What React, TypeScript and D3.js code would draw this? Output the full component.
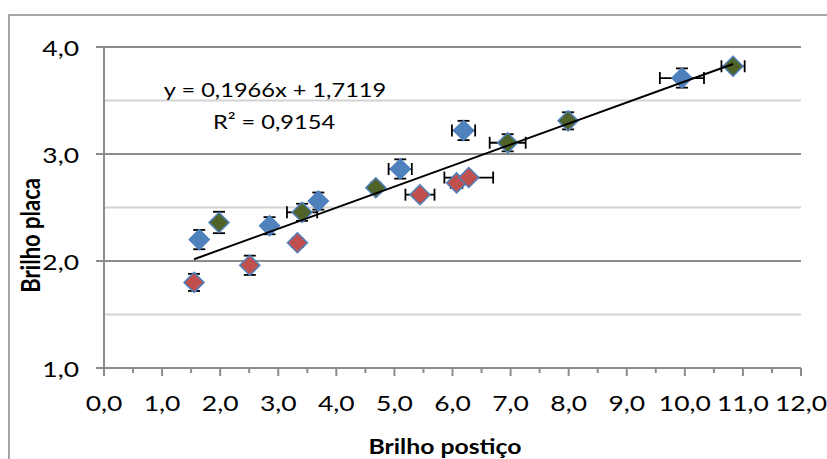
import React from "react";
import * as d3 from "d3";

// ---- data ----
const blueX = [1.64, 2.85, 3.69, 5.10, 6.19, 9.95];
const blueY = [2.20, 2.33, 2.56, 2.86, 3.22, 3.71];
const blueXErr = [0, 0, 0, 0.20, 0.20, 0.38];
const blueYErr = [0.09, 0.08, 0.08, 0.09, 0.09, 0.09];

const redX = [1.55, 2.51, 3.33, 5.44, 6.07, 6.28];
const redY = [1.80, 1.96, 2.17, 2.62, 2.73, 2.78];
const redXErr = [0, 0, 0, 0.25, 0.10, 0.42];
const redYErr = [0.08, 0.09, 0.04, 0.03, 0.03, 0.03];

const greenX = [1.98, 3.41, 4.68, 6.95, 7.99, 10.83];
const greenY = [2.36, 2.455, 2.685, 3.105, 3.31, 3.82];
const greenXErr = [0, 0.26, 0.08, 0.31, 0.05, 0.20];
const greenYErr = [0.10, 0.08, 0.03, 0.08, 0.08, 0.03];

const slope = 0.1966;
const intercept = 1.7119;
const eqLabel = "y = 0,1966x + 1,7119";
const r2Label = "R² = 0,9154";

const xTicks = [0, 1, 2, 3, 4, 5, 6, 7, 8, 9, 10, 11, 12];
const xMinorTicks = [0.5, 1.5, 2.5, 3.5, 4.5, 5.5, 6.5, 7.5, 8.5, 9.5, 10.5, 11.5];
const yTicks = [1, 2, 3, 4];
const yMinorGrid = [1.5, 2.5, 3.5];
const xTitle = "Brilho postiço";
const yTitle = "Brilho placa";

const fmt = (v: number) => v.toFixed(1).replace(".", ",");

type Pt = { x: number; y: number; xe: number; ye: number };
const mk = (xs: number[], ys: number[], xe: number[], ye: number[]): Pt[] =>
  xs.map((x, i) => ({ x, y: ys[i], xe: xe[i], ye: ye[i] }));

const series = [
  { name: "blue", fill: "#4F81BD", pts: mk(blueX, blueY, blueXErr, blueYErr) },
  { name: "red", fill: "#C0504D", pts: mk(redX, redY, redXErr, redYErr) },
  { name: "green", fill: "#4F6228", pts: mk(greenX, greenY, greenXErr, greenYErr) },
];

const W = 827;
const H = 459;
const L = 104, R = 801, T = 47, B = 368;
const SX = 1.18;
const SXT = 1.26;
const FONT = "Lato, 'Open Sans', sans-serif";

export default function App() {
  const x = d3.scaleLinear().domain([0, 12]).range([L, R]);
  const y = d3.scaleLinear().domain([1, 4]).range([B, T]);
  const allX = [...blueX, ...redX, ...greenX];
  const x0 = d3.min(allX)!;
  const x1 = d3.max(allX)!;
  const line = d3.line<number>().x((d) => x(d)).y((d) => y(slope * d + intercept));
  const diamond = (cx: number, cy: number, r: number) =>
    `M${cx},${cy - r}L${cx + r},${cy}L${cx},${cy + r}L${cx - r},${cy}Z`;
  const cap = 6;

  return (
    <svg
      width={W}
      height={H}
      style={{ position: "absolute", left: 0, top: 0, background: "#fff" }}
      fontFamily={FONT}
    >
      <rect x={0} y={0} width={W} height={H} fill="#fff" />
      {/* outer frame */}
      <rect x={9} y={15} width={W + 20} height={H + 20} fill="none" stroke="#8A8A8A" strokeWidth={1.5} />

      {/* minor gridlines */}
      {yMinorGrid.map((v) => (
        <line key={"mg" + v} x1={L} x2={R} y1={y(v)} y2={y(v)} stroke="#D3D3D3" strokeWidth={2} />
      ))}
      {/* major gridlines */}
      {yTicks.map((v) => (
        <line key={"g" + v} x1={L - 8} x2={R} y1={y(v)} y2={y(v)} stroke="#8C8C8C" strokeWidth={2} />
      ))}
      {/* axes */}
      <line x1={L} x2={L} y1={T} y2={B} stroke="#8C8C8C" strokeWidth={2} />
      <line x1={L} x2={R} y1={B} y2={B} stroke="#8C8C8C" strokeWidth={2} />
      {xTicks.map((v) => (
        <line key={"xt" + v} x1={x(v)} x2={x(v)} y1={B} y2={B + 8} stroke="#8C8C8C" strokeWidth={2} />
      ))}
      {xMinorTicks.map((v) => (
        <line key={"xm" + v} x1={x(v)} x2={x(v)} y1={B} y2={B + 5} stroke="#8C8C8C" strokeWidth={2} />
      ))}

      {/* tick labels */}
      {yTicks.map((v) => (
        <text
          key={"yl" + v}
          transform={`translate(79,${y(v) + 8.5}) scale(${SXT},1)`}
          textAnchor="end"
          fontSize={21}
          fill="#000"
        >
          {fmt(v)}
        </text>
      ))}
      {xTicks.map((v) => (
        <text
          key={"xl" + v}
          transform={`translate(${x(v)},411) scale(${SXT},1)`}
          textAnchor="middle"
          fontSize={21}
          fill="#000"
        >
          {fmt(v)}
        </text>
      ))}

      {/* axis titles */}
      <text
        transform={`translate(445,454) scale(${SX},1)`}
        textAnchor="middle"
        fontSize={21}
        fontWeight="bold"
      >
        {xTitle}
      </text>
      <text
        transform={`translate(40,235.5) scale(${SX},1) rotate(-90)`}
        textAnchor="middle"
        fontSize={22}
        fontWeight="bold"
      >
        {yTitle}
      </text>

      {/* error bars */}
      {series.map((s) =>
        s.pts.map((p, i) => (
          <g key={s.name + "e" + i} stroke="#000" strokeWidth={1.8}>
            {p.ye > 0 && (
              <>
                <line x1={x(p.x)} x2={x(p.x)} y1={y(p.y - p.ye)} y2={y(p.y + p.ye)} />
                <line x1={x(p.x) - cap} x2={x(p.x) + cap} y1={y(p.y - p.ye)} y2={y(p.y - p.ye)} />
                <line x1={x(p.x) - cap} x2={x(p.x) + cap} y1={y(p.y + p.ye)} y2={y(p.y + p.ye)} />
              </>
            )}
            {p.xe > 0 && (
              <>
                <line x1={x(p.x - p.xe)} x2={x(p.x + p.xe)} y1={y(p.y)} y2={y(p.y)} />
                <line x1={x(p.x - p.xe)} x2={x(p.x - p.xe)} y1={y(p.y) - cap} y2={y(p.y) + cap} />
                <line x1={x(p.x + p.xe)} x2={x(p.x + p.xe)} y1={y(p.y) - cap} y2={y(p.y) + cap} />
              </>
            )}
          </g>
        ))
      )}

      {/* markers */}
      {series.map((s) =>
        s.pts.map((p, i) => (
          <path
            key={s.name + "m" + i}
            d={diamond(x(p.x), y(p.y), 10)}
            fill={s.fill}
            stroke="#4F81BD"
            strokeWidth={1.5}
          />
        ))
      )}

      {/* trend line */}
      <path d={line([x0, x1]) || ""} fill="none" stroke="#000" strokeWidth={2} />

      {/* equation */}
      <text transform={`translate(275,96.5) scale(${SX},1)`} textAnchor="middle" fontSize={20}>
        {eqLabel}
      </text>
      <text transform={`translate(274,128.5) scale(${SX},1)`} textAnchor="middle" fontSize={20}>
        {r2Label}
      </text>
    </svg>
  );
}
